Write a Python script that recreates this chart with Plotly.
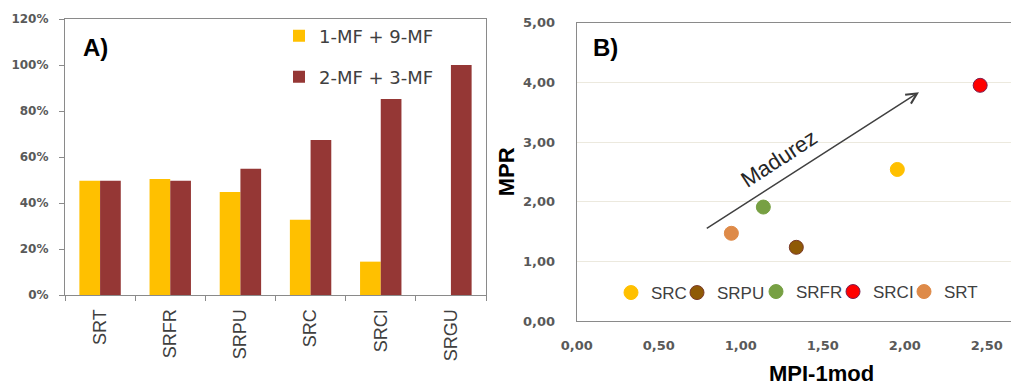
import plotly.graph_objects as go

# ---------------- data ----------------
categories = ["SRT", "SRFR", "SRPU", "SRC", "SRCI", "SRGU"]
bar_names = ["1-MF + 9-MF", "2-MF + 3-MF"]
mf_1_9 = [49.7, 50.4, 44.8, 32.7, 14.5, 0.0]
mf_2_3 = [49.7, 49.7, 54.9, 67.4, 85.2, 100.0]
pct_ticks = [0, 20, 40, 60, 80, 100, 120]
pct_labels = ["0%", "20%", "40%", "60%", "80%", "100%", "120%"]

scatter_names = ["SRC", "SRPU", "SRFR", "SRCI", "SRT"]
mpi_1mod = [1.955, 1.339, 1.138, 2.46, 0.943]
mpr = [2.54, 1.235, 1.91, 3.95, 1.47]
mpr_ticks = [0, 1, 2, 3, 4, 5]
mpi_ticks = [0, 0.5, 1.0, 1.5, 2.0, 2.5]

# ---------------- styling ----------------
W, H = 1011, 385
bar_colors = ["#FFC000", "#953735"]
pt_colors = ["#FFC000", "#8F5A06", "#77A043", "#FF0000", "#DE8A48"]
pt_lines = ["#FFC000", "#7A3A2A", "#77A043", "#7A2050", "#DE8A48"]
axis_col = "#8A8A8A"
tick_font = dict(family="DejaVu Sans", size=12, color="#595959", weight="bold")
tick_font2 = dict(family="DejaVu Sans", size=13, color="#595959", weight="bold")


def px(xp):
    return xp / W


def py(yp):
    return 1 - yp / H


fig = go.Figure()

bar_legends = ["legend", "legend2"]
for i, (name, vals) in enumerate(zip(bar_names, [mf_1_9, mf_2_3])):
    fig.add_trace(go.Bar(
        x=categories, y=vals, name=name, marker_color=bar_colors[i],
        marker_line_width=0, xaxis="x", yaxis="y", legend=bar_legends[i],
    ))

sc_legends = ["legend3", "legend4", "legend5", "legend6", "legend7"]
for i, name in enumerate(scatter_names):
    fig.add_trace(go.Scatter(
        x=[mpi_1mod[i]], y=[mpr[i]], name=name, mode="markers",
        marker=dict(size=14, color=pt_colors[i], line=dict(width=1, color=pt_lines[i])),
        xaxis="x2", yaxis="y2", legend=sc_legends[i],
    ))

leg_font_bar = dict(family="DejaVu Sans", size=18, color="#404040")
leg_font_sc = dict(family="Liberation Sans", size=17, color="#404040")

layout_legends = {}
# (legend box left px, legend middle px)
bar_leg_pos = [(279, 36), (279, 77)]
for lg, (lx, ly) in zip(bar_legends, bar_leg_pos):
    layout_legends[lg] = dict(x=px(lx), y=py(ly), xanchor="left", yanchor="middle",
                              font=leg_font_bar, bgcolor="rgba(0,0,0,0)", borderwidth=0)
sc_leg_pos = [(611, 293), (677, 293), (756, 292), (833, 292), (904, 292)]
for lg, (lx, ly) in zip(sc_legends, sc_leg_pos):
    layout_legends[lg] = dict(x=px(lx), y=py(ly), xanchor="left", yanchor="middle",
                              font=leg_font_sc, bgcolor="rgba(0,0,0,0)", borderwidth=0)

fig.update_layout(
    width=W, height=H,
    margin=dict(l=0, r=0, t=0, b=0, autoexpand=False),
    paper_bgcolor="white", plot_bgcolor="white",
    separators=",.",
    barmode="group", bargap=0.41, bargroupgap=0,
    showlegend=True,
    font=dict(family="Liberation Sans", color="#404040"),
    xaxis=dict(
        domain=[px(65), px(486)], anchor="y", type="category", automargin=False,
        showline=True, linecolor=axis_col, linewidth=1.2, mirror=True,
        ticks="outside", ticklen=5, tickcolor=axis_col, tickson="boundaries",
        tickangle=-90, ticklabelstandoff=6,
        tickfont=dict(family="Liberation Sans", size=18, color="#404040"),
        showgrid=False,
    ),
    yaxis=dict(
        domain=[py(295), py(19)], anchor="x", range=[0, 120], automargin=False,
        tickvals=pct_ticks, ticktext=pct_labels,
        showline=True, linecolor=axis_col, linewidth=1.2, mirror=True,
        ticks="outside", ticklen=5, tickcolor=axis_col, ticklabelstandoff=8,
        tickfont=tick_font, showgrid=False, zeroline=False,
    ),
    xaxis2=dict(
        domain=[px(576.7), 1.0], anchor="y2", range=[0, 2.648], automargin=False,
        tickvals=mpi_ticks, tickformat=".2f",
        showline=True, linecolor=axis_col, linewidth=1.2, mirror=True,
        ticks="", ticklabelstandoff=12, tickfont=tick_font2,
        showgrid=False, zeroline=False,
    ),
    yaxis2=dict(
        domain=[py(321), py(22.7)], anchor="x2", range=[0, 5], automargin=False,
        tickvals=mpr_ticks, tickformat=".2f",
        showline=True, linecolor=axis_col, linewidth=1.2, mirror=True,
        ticks="", ticklabelstandoff=18, tickfont=tick_font2,
        showgrid=True, gridcolor="#ECE9DE", gridwidth=1, zeroline=False,
        title=dict(text="MPR", font=dict(family="Liberation Sans", size=22, color="#000000", weight="bold"),
                   standoff=2),
    ),
    **layout_legends,
)

fig.update_layout(annotations=[
    dict(text="A)", x=px(95), y=py(47), xref="paper", yref="paper", showarrow=False,
         xanchor="center", yanchor="middle",
         font=dict(family="Liberation Sans", size=24, color="#000000", weight="bold")),
    dict(text="B)", x=px(605), y=py(47), xref="paper", yref="paper", showarrow=False,
         xanchor="center", yanchor="middle",
         font=dict(family="Liberation Sans", size=24, color="#000000", weight="bold")),
    dict(text="MPI-1mod", x=px(821), y=py(373), xref="paper", yref="paper", showarrow=False,
         xanchor="center", yanchor="middle",
         font=dict(family="Liberation Sans", size=22, color="#000000", weight="bold")),
    dict(text="", x=2.087, y=3.836, ax=0.784, ay=1.536, xref="x2", yref="y2",
         axref="x2", ayref="y2", showarrow=True, arrowhead=5, arrowsize=1.4,
         arrowwidth=1.5, arrowcolor="#404040"),
    dict(text="Madurez", x=1.234, y=2.73, xref="x2", yref="y2", showarrow=False,
         textangle=-33, font=dict(family="Liberation Sans", size=22, color="#262626")),
])

fig.write_html("out.html")
